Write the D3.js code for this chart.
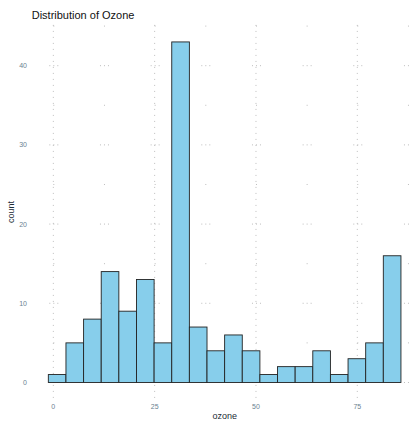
<!DOCTYPE html>
<html lang="en">
<head>
  <meta charset="UTF-8">
  <title>Distribution of Ozone</title>
  <style>
    body {
      margin: 0;
      background: #fff;
      font-family: "Liberation Sans", Arial, sans-serif;
    }
    svg {
      display: block;
    }
    .tick-label {
      fill: #6a8291;
      font-size: 7px;
    }
    .axis-title {
      fill: #1b2b36;
      font-size: 9px;
    }
  </style>
</head>
<body>
  <svg id="chart" width="410" height="430"></svg>

  <script src="https://d3js.org/d3.v7.min.js"></script>
  <script>
    // histogram of ozone, 20 bins
    const binStart = -1.23;
    const binWidth = 4.35;
    const counts = [1, 5, 8, 14, 9, 13, 5, 43, 7, 4, 6, 4, 1, 2, 2, 4, 1, 3, 5, 16];
    const xTicks = [0, 25, 50, 75];
    const yTicks = [0, 10, 20, 30, 40];
    const xMinor = [12.5, 37.5, 62.5, 87.5];
    const yMinor = [5, 15, 25, 35, 45];

    const svg = d3.select("#chart");

    const bins = counts.map((c, i) => ({
      x0: binStart + i * binWidth,
      x1: binStart + (i + 1) * binWidth,
      count: c
    }));

    const x = d3.scaleLinear().domain([-5.58, 90.15]).range([30.7, 418.7]);
    const y = d3.scaleLinear().domain([-2.15, 45.15]).range([399.5, 24.9]);

    const grid = svg.append("g").attr("stroke", "#bdbdbd").attr("fill", "none");

    // major vertical gridlines, dotted
    grid.selectAll("line.vmaj")
      .data(xTicks)
      .join("line")
      .attr("class", "vmaj")
      .attr("x1", d => x(d)).attr("x2", d => x(d))
      .attr("y1", y.range()[1]).attr("y2", y.range()[0])
      .attr("stroke-width", 1)
      .attr("stroke-dasharray", "1,5");

    // the horizontal lines only show up as small dots near crossings
    const crossings = [];
    xTicks.concat(xMinor).forEach(xv => {
      yTicks.concat(yMinor).forEach(yv => crossings.push([xv, yv]));
    });

    grid.selectAll("line.h")
      .data(crossings)
      .join("line")
      .attr("class", "h")
      .attr("x1", d => x(d[0]) - 4).attr("x2", d => x(d[0]) + 5)
      .attr("y1", d => y(d[1])).attr("y2", d => y(d[1]))
      .attr("stroke-width", 1)
      .attr("stroke-dasharray", d => yTicks.includes(d[1]) ? "1,3" : "1,9")
      .attr("stroke-dashoffset", d => yTicks.includes(d[1]) ? 0 : -4);

    // bars
    svg.append("g")
      .selectAll("rect")
      .data(bins)
      .join("rect")
      .attr("x", d => x(d.x0))
      .attr("width", d => x(d.x1) - x(d.x0))
      .attr("y", d => y(d.count))
      .attr("height", d => y(0) - y(d.count))
      .attr("fill", "#87ceeb")
      .attr("stroke", "#222")
      .attr("stroke-width", 0.9);

    // tick labels
    svg.append("g")
      .selectAll("text")
      .data(xTicks)
      .join("text")
      .attr("class", "tick-label")
      .attr("x", d => x(d))
      .attr("y", 409)
      .attr("text-anchor", "middle")
      .text(d => d);

    svg.append("g")
      .selectAll("text")
      .data(yTicks)
      .join("text")
      .attr("class", "tick-label")
      .attr("x", 27)
      .attr("y", d => y(d) + 2.5)
      .attr("text-anchor", "end")
      .text(d => d);

    // titles
    svg.append("text")
      .attr("class", "axis-title")
      .attr("x", 224.7)
      .attr("y", 419)
      .attr("text-anchor", "middle")
      .text("ozone");

    svg.append("text")
      .attr("class", "axis-title")
      .attr("transform", "translate(14,212) rotate(-90)")
      .attr("text-anchor", "middle")
      .text("count");

    svg.append("text")
      .attr("x", 31.7)
      .attr("y", 18.5)
      .attr("font-size", "11px")
      .attr("fill", "#111")
      .text("Distribution of Ozone");
  </script>
</body>
</html>
